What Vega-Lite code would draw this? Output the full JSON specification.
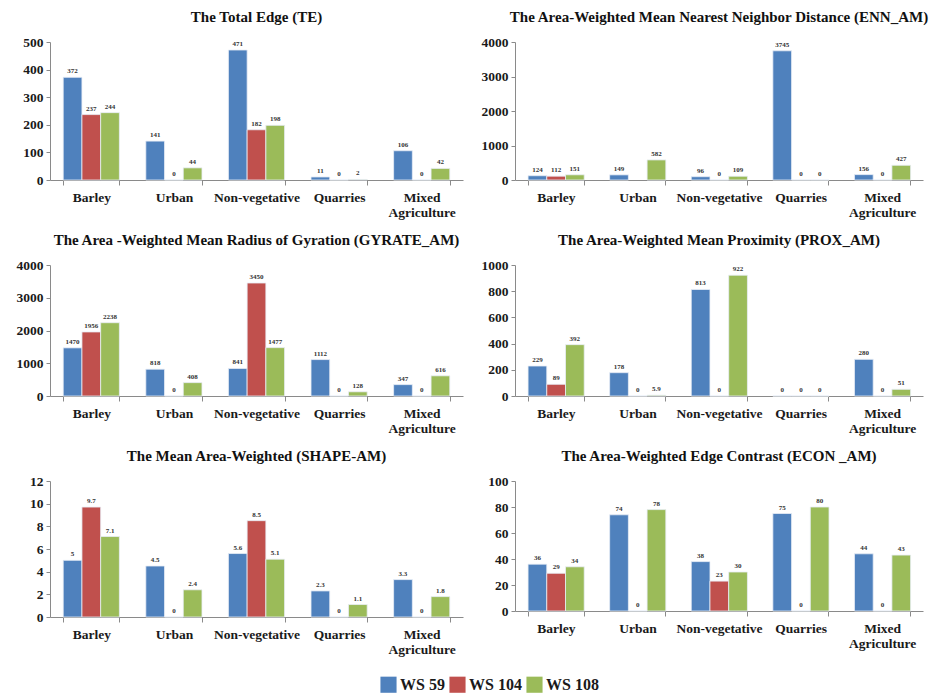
{
  "$schema": "https://vega.github.io/schema/vega-lite/v6.json",
  "padding": {"left": 10, "top": 10, "right": 5, "bottom": 2},
  "background": "white",
  "data": {"values": [
    {"m":"TE","cat":"Barley","ws":"WS 59","v":372},{"m":"TE","cat":"Barley","ws":"WS 104","v":237},{"m":"TE","cat":"Barley","ws":"WS 108","v":244},
    {"m":"TE","cat":"Urban","ws":"WS 59","v":141},{"m":"TE","cat":"Urban","ws":"WS 104","v":0},{"m":"TE","cat":"Urban","ws":"WS 108","v":44},
    {"m":"TE","cat":"Non-vegetative","ws":"WS 59","v":471},{"m":"TE","cat":"Non-vegetative","ws":"WS 104","v":182},{"m":"TE","cat":"Non-vegetative","ws":"WS 108","v":198},
    {"m":"TE","cat":"Quarries","ws":"WS 59","v":11},{"m":"TE","cat":"Quarries","ws":"WS 104","v":0},{"m":"TE","cat":"Quarries","ws":"WS 108","v":2},
    {"m":"TE","cat":"Mixed Agriculture","ws":"WS 59","v":106},{"m":"TE","cat":"Mixed Agriculture","ws":"WS 104","v":0},{"m":"TE","cat":"Mixed Agriculture","ws":"WS 108","v":42},

    {"m":"ENN","cat":"Barley","ws":"WS 59","v":124},{"m":"ENN","cat":"Barley","ws":"WS 104","v":112},{"m":"ENN","cat":"Barley","ws":"WS 108","v":151},
    {"m":"ENN","cat":"Urban","ws":"WS 59","v":149},{"m":"ENN","cat":"Urban","ws":"WS 104","v":null},{"m":"ENN","cat":"Urban","ws":"WS 108","v":582},
    {"m":"ENN","cat":"Non-vegetative","ws":"WS 59","v":96},{"m":"ENN","cat":"Non-vegetative","ws":"WS 104","v":0},{"m":"ENN","cat":"Non-vegetative","ws":"WS 108","v":109},
    {"m":"ENN","cat":"Quarries","ws":"WS 59","v":3745},{"m":"ENN","cat":"Quarries","ws":"WS 104","v":0},{"m":"ENN","cat":"Quarries","ws":"WS 108","v":0},
    {"m":"ENN","cat":"Mixed Agriculture","ws":"WS 59","v":156},{"m":"ENN","cat":"Mixed Agriculture","ws":"WS 104","v":0},{"m":"ENN","cat":"Mixed Agriculture","ws":"WS 108","v":427},

    {"m":"GYR","cat":"Barley","ws":"WS 59","v":1470},{"m":"GYR","cat":"Barley","ws":"WS 104","v":1956},{"m":"GYR","cat":"Barley","ws":"WS 108","v":2238},
    {"m":"GYR","cat":"Urban","ws":"WS 59","v":818},{"m":"GYR","cat":"Urban","ws":"WS 104","v":0},{"m":"GYR","cat":"Urban","ws":"WS 108","v":408},
    {"m":"GYR","cat":"Non-vegetative","ws":"WS 59","v":841},{"m":"GYR","cat":"Non-vegetative","ws":"WS 104","v":3450},{"m":"GYR","cat":"Non-vegetative","ws":"WS 108","v":1477},
    {"m":"GYR","cat":"Quarries","ws":"WS 59","v":1112},{"m":"GYR","cat":"Quarries","ws":"WS 104","v":0},{"m":"GYR","cat":"Quarries","ws":"WS 108","v":128},
    {"m":"GYR","cat":"Mixed Agriculture","ws":"WS 59","v":347},{"m":"GYR","cat":"Mixed Agriculture","ws":"WS 104","v":0},{"m":"GYR","cat":"Mixed Agriculture","ws":"WS 108","v":616},

    {"m":"PROX","cat":"Barley","ws":"WS 59","v":229},{"m":"PROX","cat":"Barley","ws":"WS 104","v":89},{"m":"PROX","cat":"Barley","ws":"WS 108","v":392},
    {"m":"PROX","cat":"Urban","ws":"WS 59","v":178},{"m":"PROX","cat":"Urban","ws":"WS 104","v":0},{"m":"PROX","cat":"Urban","ws":"WS 108","v":5.9},
    {"m":"PROX","cat":"Non-vegetative","ws":"WS 59","v":813},{"m":"PROX","cat":"Non-vegetative","ws":"WS 104","v":0},{"m":"PROX","cat":"Non-vegetative","ws":"WS 108","v":922},
    {"m":"PROX","cat":"Quarries","ws":"WS 59","v":0},{"m":"PROX","cat":"Quarries","ws":"WS 104","v":0},{"m":"PROX","cat":"Quarries","ws":"WS 108","v":0},
    {"m":"PROX","cat":"Mixed Agriculture","ws":"WS 59","v":280},{"m":"PROX","cat":"Mixed Agriculture","ws":"WS 104","v":0},{"m":"PROX","cat":"Mixed Agriculture","ws":"WS 108","v":51},

    {"m":"SHAPE","cat":"Barley","ws":"WS 59","v":5},{"m":"SHAPE","cat":"Barley","ws":"WS 104","v":9.7},{"m":"SHAPE","cat":"Barley","ws":"WS 108","v":7.1},
    {"m":"SHAPE","cat":"Urban","ws":"WS 59","v":4.5},{"m":"SHAPE","cat":"Urban","ws":"WS 104","v":0},{"m":"SHAPE","cat":"Urban","ws":"WS 108","v":2.4},
    {"m":"SHAPE","cat":"Non-vegetative","ws":"WS 59","v":5.6},{"m":"SHAPE","cat":"Non-vegetative","ws":"WS 104","v":8.5},{"m":"SHAPE","cat":"Non-vegetative","ws":"WS 108","v":5.1},
    {"m":"SHAPE","cat":"Quarries","ws":"WS 59","v":2.3},{"m":"SHAPE","cat":"Quarries","ws":"WS 104","v":0},{"m":"SHAPE","cat":"Quarries","ws":"WS 108","v":1.1},
    {"m":"SHAPE","cat":"Mixed Agriculture","ws":"WS 59","v":3.3},{"m":"SHAPE","cat":"Mixed Agriculture","ws":"WS 104","v":0},{"m":"SHAPE","cat":"Mixed Agriculture","ws":"WS 108","v":1.8},

    {"m":"ECON","cat":"Barley","ws":"WS 59","v":36},{"m":"ECON","cat":"Barley","ws":"WS 104","v":29},{"m":"ECON","cat":"Barley","ws":"WS 108","v":34},
    {"m":"ECON","cat":"Urban","ws":"WS 59","v":74},{"m":"ECON","cat":"Urban","ws":"WS 104","v":0},{"m":"ECON","cat":"Urban","ws":"WS 108","v":78},
    {"m":"ECON","cat":"Non-vegetative","ws":"WS 59","v":38},{"m":"ECON","cat":"Non-vegetative","ws":"WS 104","v":23},{"m":"ECON","cat":"Non-vegetative","ws":"WS 108","v":30},
    {"m":"ECON","cat":"Quarries","ws":"WS 59","v":75},{"m":"ECON","cat":"Quarries","ws":"WS 104","v":0},{"m":"ECON","cat":"Quarries","ws":"WS 108","v":80},
    {"m":"ECON","cat":"Mixed Agriculture","ws":"WS 59","v":44},{"m":"ECON","cat":"Mixed Agriculture","ws":"WS 104","v":0},{"m":"ECON","cat":"Mixed Agriculture","ws":"WS 108","v":43}
  ]},
  "spacing": 14,
  "vconcat": [
    {"hconcat": [
      {"title": "The Total Edge (TE)", "width": 413, "height": 138,
       "transform": [{"filter": "datum.m == 'TE'"}],
       "encoding": {
         "x": {"field": "cat", "type": "nominal", "title": null, "sort": ["Barley","Urban","Non-vegetative","Quarries","Mixed Agriculture"], "scale": {"paddingInner": 0.32, "paddingOuter": 0.16}},
         "xOffset": {"field": "ws", "sort": ["WS 59","WS 104","WS 108"]},
         "y": {"field": "v", "type": "quantitative", "title": null, "scale": {"domain": [0, 500]}, "axis": {"values": [0,100,200,300,400,500]}}
       },
       "layer": [
         {"mark": {"type": "bar", "stroke": "#e8eef6", "strokeWidth": 0.8}, "encoding": {"color": {"field": "ws", "title": null, "sort": ["WS 59","WS 104","WS 108"], "scale": {"domain": ["WS 59","WS 104","WS 108"], "range": ["#4F81BD","#C0504D","#9BBB59"]}}}},
         {"mark": {"type": "text", "dy": -6, "fontSize": 7, "fontWeight": "bold", "font": "Liberation Serif", "color": "#333"}, "encoding": {"text": {"field": "v"}}}
       ]},
      {"title": "The Area-Weighted Mean Nearest Neighbor Distance (ENN_AM)", "width": 408, "height": 138,
       "transform": [{"filter": "datum.m == 'ENN'"}],
       "encoding": {
         "x": {"field": "cat", "type": "nominal", "title": null, "sort": ["Barley","Urban","Non-vegetative","Quarries","Mixed Agriculture"], "scale": {"paddingInner": 0.32, "paddingOuter": 0.16}},
         "xOffset": {"field": "ws", "sort": ["WS 59","WS 104","WS 108"]},
         "y": {"field": "v", "type": "quantitative", "title": null, "scale": {"domain": [0, 4000]}, "axis": {"values": [0,1000,2000,3000,4000]}}
       },
       "layer": [
         {"mark": {"type": "bar", "stroke": "#e8eef6", "strokeWidth": 0.8}, "encoding": {"color": {"field": "ws", "title": null, "sort": ["WS 59","WS 104","WS 108"], "scale": {"domain": ["WS 59","WS 104","WS 108"], "range": ["#4F81BD","#C0504D","#9BBB59"]}}}},
         {"mark": {"type": "text", "dy": -6, "fontSize": 7, "fontWeight": "bold", "font": "Liberation Serif", "color": "#333"}, "encoding": {"text": {"field": "v"}}}
       ]}
    ]},
    {"hconcat": [
      {"title": "The Area -Weighted Mean Radius of Gyration (GYRATE_AM)", "width": 413, "height": 131,
       "transform": [{"filter": "datum.m == 'GYR'"}],
       "encoding": {
         "x": {"field": "cat", "type": "nominal", "title": null, "sort": ["Barley","Urban","Non-vegetative","Quarries","Mixed Agriculture"], "scale": {"paddingInner": 0.32, "paddingOuter": 0.16}},
         "xOffset": {"field": "ws", "sort": ["WS 59","WS 104","WS 108"]},
         "y": {"field": "v", "type": "quantitative", "title": null, "scale": {"domain": [0, 4000]}, "axis": {"values": [0,1000,2000,3000,4000]}}
       },
       "layer": [
         {"mark": {"type": "bar", "stroke": "#e8eef6", "strokeWidth": 0.8}, "encoding": {"color": {"field": "ws", "title": null, "sort": ["WS 59","WS 104","WS 108"], "scale": {"domain": ["WS 59","WS 104","WS 108"], "range": ["#4F81BD","#C0504D","#9BBB59"]}}}},
         {"mark": {"type": "text", "dy": -6, "fontSize": 7, "fontWeight": "bold", "font": "Liberation Serif", "color": "#333"}, "encoding": {"text": {"field": "v"}}}
       ]},
      {"title": "The Area-Weighted Mean Proximity (PROX_AM)", "width": 408, "height": 131,
       "transform": [{"filter": "datum.m == 'PROX'"}],
       "encoding": {
         "x": {"field": "cat", "type": "nominal", "title": null, "sort": ["Barley","Urban","Non-vegetative","Quarries","Mixed Agriculture"], "scale": {"paddingInner": 0.32, "paddingOuter": 0.16}},
         "xOffset": {"field": "ws", "sort": ["WS 59","WS 104","WS 108"]},
         "y": {"field": "v", "type": "quantitative", "title": null, "scale": {"domain": [0, 1000]}, "axis": {"values": [0,200,400,600,800,1000]}}
       },
       "layer": [
         {"mark": {"type": "bar", "stroke": "#e8eef6", "strokeWidth": 0.8}, "encoding": {"color": {"field": "ws", "title": null, "sort": ["WS 59","WS 104","WS 108"], "scale": {"domain": ["WS 59","WS 104","WS 108"], "range": ["#4F81BD","#C0504D","#9BBB59"]}}}},
         {"mark": {"type": "text", "dy": -6, "fontSize": 7, "fontWeight": "bold", "font": "Liberation Serif", "color": "#333"}, "encoding": {"text": {"field": "v"}}}
       ]}
    ]},
    {"hconcat": [
      {"title": "The Mean Area-Weighted (SHAPE-AM)", "width": 413, "height": 136,
       "transform": [{"filter": "datum.m == 'SHAPE'"}],
       "encoding": {
         "x": {"field": "cat", "type": "nominal", "title": null, "sort": ["Barley","Urban","Non-vegetative","Quarries","Mixed Agriculture"], "scale": {"paddingInner": 0.32, "paddingOuter": 0.16}},
         "xOffset": {"field": "ws", "sort": ["WS 59","WS 104","WS 108"]},
         "y": {"field": "v", "type": "quantitative", "title": null, "scale": {"domain": [0, 12]}, "axis": {"values": [0,2,4,6,8,10,12]}}
       },
       "layer": [
         {"mark": {"type": "bar", "stroke": "#e8eef6", "strokeWidth": 0.8}, "encoding": {"color": {"field": "ws", "title": null, "sort": ["WS 59","WS 104","WS 108"], "scale": {"domain": ["WS 59","WS 104","WS 108"], "range": ["#4F81BD","#C0504D","#9BBB59"]}}}},
         {"mark": {"type": "text", "dy": -6, "fontSize": 7, "fontWeight": "bold", "font": "Liberation Serif", "color": "#333"}, "encoding": {"text": {"field": "v"}}}
       ]},
      {"title": "The Area-Weighted Edge Contrast (ECON _AM)", "width": 408, "height": 130,
       "transform": [{"filter": "datum.m == 'ECON'"}],
       "encoding": {
         "x": {"field": "cat", "type": "nominal", "title": null, "sort": ["Barley","Urban","Non-vegetative","Quarries","Mixed Agriculture"], "scale": {"paddingInner": 0.32, "paddingOuter": 0.16}},
         "xOffset": {"field": "ws", "sort": ["WS 59","WS 104","WS 108"]},
         "y": {"field": "v", "type": "quantitative", "title": null, "scale": {"domain": [0, 100]}, "axis": {"values": [0,20,40,60,80,100]}}
       },
       "layer": [
         {"mark": {"type": "bar", "stroke": "#e8eef6", "strokeWidth": 0.8}, "encoding": {"color": {"field": "ws", "title": null, "sort": ["WS 59","WS 104","WS 108"], "scale": {"domain": ["WS 59","WS 104","WS 108"], "range": ["#4F81BD","#C0504D","#9BBB59"]}}}},
         {"mark": {"type": "text", "dy": -6, "fontSize": 7, "fontWeight": "bold", "font": "Liberation Serif", "color": "#333"}, "encoding": {"text": {"field": "v"}}}
       ]}
    ]}
  ],
  "config": {
    "view": {"stroke": null},
    "concat": {"spacing": 12},
    "title": {"font": "Liberation Serif", "fontSize": 15, "fontWeight": "bold", "color": "#111", "anchor": "middle", "offset": 10},
    "axis": {"labelFont": "Liberation Serif", "labelFontWeight": "bold", "labelFontSize": 13.5, "labelColor": "#1a1a1a", "domainColor": "#8a8a8a", "tickColor": "#8a8a8a", "grid": false},
    "axisX": {"tickBand": "extent", "labelAngle": 0, "labelPadding": 5, "tickSize": 5, "labelLineHeight": 15, "labelExpr": "datum.label == 'Mixed Agriculture' ? ['Mixed', 'Agriculture'] : datum.label"},
    "axisY": {"minExtent": 40, "tickSize": 4, "labelPadding": 3, "format": "d"},
    "legend": {"orient": "none", "legendX": 330, "legendY": 634, "direction": "horizontal", "labelFont": "Liberation Serif", "labelFontWeight": "bold", "labelFontSize": 16, "labelColor": "#1a1a1a", "symbolType": "square", "symbolSize": 260, "symbolStrokeWidth": 0, "columnPadding": 4, "labelOffset": 3, "symbolOpacity": 1}
  }
}
